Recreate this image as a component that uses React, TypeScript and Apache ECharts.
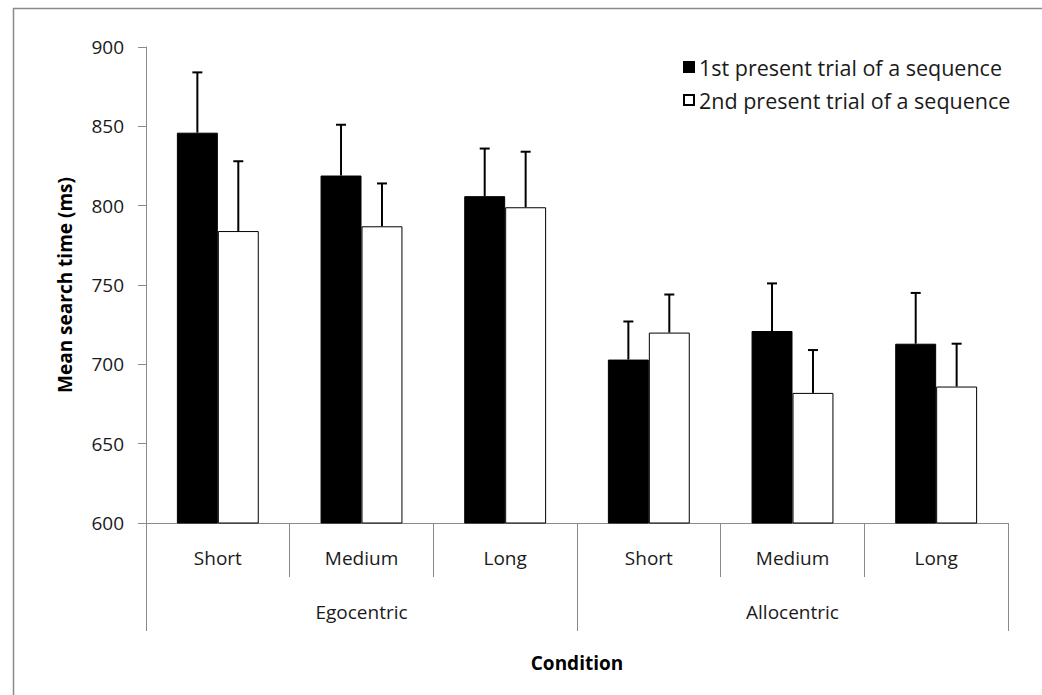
import React, { useEffect, useRef } from "react";
import * as echarts from "echarts";

const subCategories = ["Short", "Medium", "Long", "Short", "Medium", "Long"];
const groups = ["Egocentric", "Allocentric"];
const seriesNames = ["1st present trial of a sequence", "2nd present trial of a sequence"];
const firstMeans = [846, 819, 806, 703, 721, 713];
const firstErrors = [38, 32, 30, 24, 30, 32];
const secondMeans = [784, 787, 799, 720, 682, 686];
const secondErrors = [44, 27, 35, 24, 27, 27];
const yMin = 600;
const yMax = 900;
const yStep = 50;
const yTitle = "Mean search time (ms)";
const xTitle = "Condition";

const FONT = "'Open Sans', 'Noto Sans', sans-serif";
const TEXT = "#1a1a1a";
const AXIS = "#8a8a8a";
const BAR_FRACTION = 0.57;

function errorSeries(means: number[], errors: number[], sign: number) {
  return {
    type: "custom",
    xAxisIndex: 0,
    yAxisIndex: 0,
    silent: true,
    data: means.map((m, i) => [i, m, errors[i]]),
    renderItem: (params: any, api: any) => {
      const i = api.value(0);
      const m = api.value(1);
      const e = api.value(2);
      const band = api.size([1, 0])[0];
      const offset = (sign * band * BAR_FRACTION) / 4;
      const base = api.coord([i, m]);
      const top = api.coord([i, m + e]);
      const x = base[0] + offset;
      return {
        type: "group",
        children: [
          {
            type: "line",
            shape: { x1: x, y1: base[1], x2: x, y2: top[1] },
            style: { stroke: "#000", lineWidth: 2 },
          },
          {
            type: "line",
            shape: { x1: x - 5, y1: top[1], x2: x + 5, y2: top[1] },
            style: { stroke: "#000", lineWidth: 2 },
          },
        ],
      };
    },
  };
}

export default function App() {
  const ref = useRef<HTMLDivElement>(null);
  useEffect(() => {
    if (!ref.current) return;
    const chart = echarts.init(ref.current, undefined, { renderer: "svg" });
    chart.setOption({
      animation: false,
      backgroundColor: "#fff",
      textStyle: { fontFamily: FONT, color: TEXT },
      grid: { left: 146, right: 34, top: 47, bottom: 172, containLabel: false },
      legend: {
        orient: "vertical",
        left: 678,
        top: 51,
        itemWidth: 10,
        itemHeight: 10,
        itemGap: 11,
        icon: "rect",
        textStyle: { fontFamily: FONT, fontSize: 21.5, color: TEXT },
        data: seriesNames,
      },
      xAxis: [
        {
          type: "category",
          data: subCategories,
          position: "bottom",
          axisLine: { show: true, lineStyle: { color: AXIS, width: 1 } },
          axisTick: { show: true, length: 54, interval: 0, lineStyle: { color: AXIS } },
          axisLabel: { margin: 25, fontSize: 19, color: TEXT, fontFamily: FONT, interval: 0 },
          splitLine: { show: false },
        },
        {
          type: "category",
          data: groups,
          position: "bottom",
          axisLine: { show: false },
          axisTick: { show: true, length: 108, interval: 0, lineStyle: { color: AXIS } },
          axisLabel: { margin: 79, fontSize: 19, color: TEXT, fontFamily: FONT, interval: 0 },
          splitLine: { show: false },
        },
      ],
      yAxis: {
        type: "value",
        min: yMin,
        max: yMax,
        interval: yStep,
        name: yTitle,
        nameLocation: "middle",
        nameGap: 72,
        nameTextStyle: { fontFamily: FONT, fontSize: 19, fontWeight: "bold", color: "#000" },
        axisLine: { show: true, lineStyle: { color: AXIS, width: 1 } },
        axisTick: { show: true, length: 8, lineStyle: { color: AXIS } },
        axisLabel: { margin: 22, fontSize: 19, color: TEXT, fontFamily: FONT },
        splitLine: { show: false },
      },
      graphic: [
        {
          type: "rect",
          left: 11,
          top: 6,
          shape: { x: 0, y: 0, width: 1100, height: 800 },
          style: { fill: "none", stroke: "#8a8a8a", lineWidth: 1.5 },
          silent: true,
        },
        {
          type: "text",
          x: 577,
          y: 663,
          style: {
            text: xTitle,
            fontFamily: FONT,
            fontSize: 19,
            fontWeight: "bold",
            fill: "#000",
            align: "center",
            verticalAlign: "middle",
          },
        },
      ],
      series: [
        {
          name: seriesNames[0],
          type: "bar",
          data: firstMeans,
          barGap: "0%",
          barCategoryGap: `${Math.round((1 - BAR_FRACTION) * 100)}%`,
          itemStyle: { color: "#000", borderColor: "#000", borderWidth: 1 },
        },
        {
          name: seriesNames[1],
          type: "bar",
          data: secondMeans,
          barGap: "0%",
          barCategoryGap: `${Math.round((1 - BAR_FRACTION) * 100)}%`,
          itemStyle: { color: "#fff", borderColor: "#000", borderWidth: 1 },
        },
        errorSeries(firstMeans, firstErrors, -1),
        errorSeries(secondMeans, secondErrors, 1),
      ],
    });
    return () => chart.dispose();
  }, []);
  return (
    <div
      ref={ref}
      style={{ position: "fixed", left: 0, top: 0, width: 1042, height: 695 }}
    />
  );
}
